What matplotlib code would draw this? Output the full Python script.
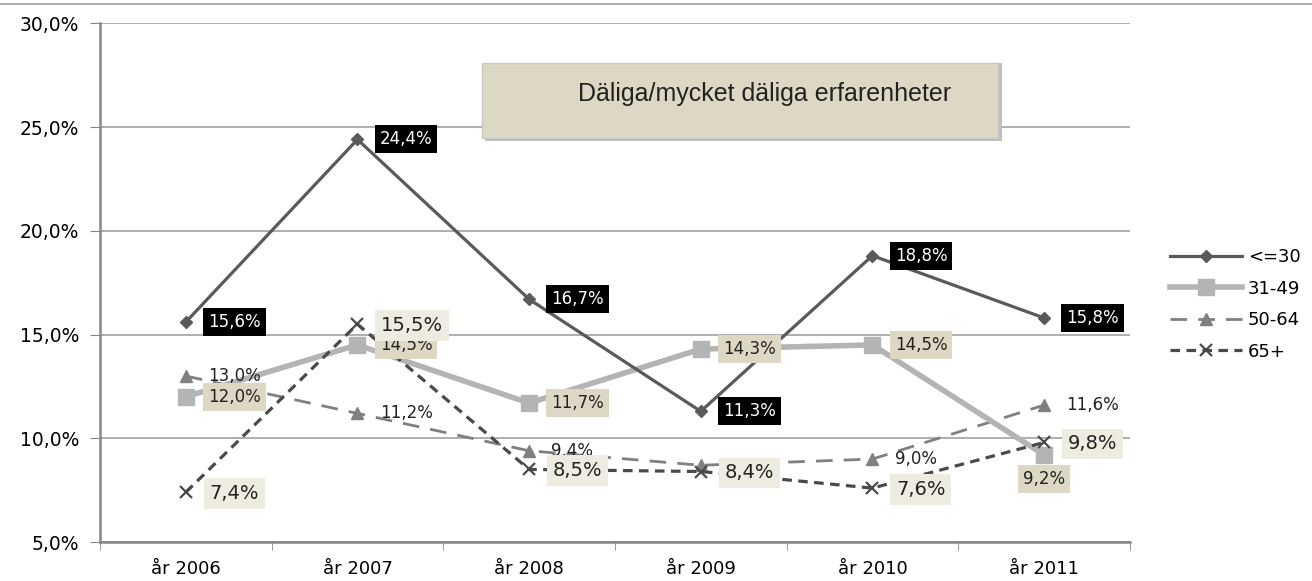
import numpy as np
import matplotlib.pyplot as plt
from matplotlib.ticker import FuncFormatter

years = ['år 2006', 'år 2007', 'år 2008', 'år 2009', 'år 2010', 'år 2011']
under30 = [15.6, 24.4, 16.7, 11.3, 18.8, 15.8]
age31_49 = [12.0, 14.5, 11.7, 14.3, 14.5, 9.2]
age50_64 = [13.0, 11.2, 9.4, 8.7, 9.0, 11.6]
age65 = [7.4, 15.5, 8.5, 8.4, 7.6, 9.8]
title = 'Däliga/mycket däliga erfarenheter'

plt.rcParams['font.family'] = ['DejaVu Sans']

fig = plt.figure(figsize=(13.12, 5.81), dpi=100)
ax = fig.add_axes([0.0762, 0.067, 0.785, 0.893])
x = np.arange(len(years))

ax.plot(x, under30, color='#5a5a5a', lw=2.3, marker='D', ms=6.5, label='<=30', zorder=5)
ax.plot(x, age31_49, color='#b4b4b4', lw=4, marker='s', ms=12, label='31-49', zorder=4)
ax.plot(x, age50_64, color='#808080', lw=2, ls=(0, (6, 4)), marker='^', ms=8, label='50-64', zorder=3)
ax.plot(x, age65, color='#4a4a4a', lw=2.3, ls=(0, (3, 2)), marker='x', ms=9, mew=1.6, label='65+', zorder=6)

def fmt(v):
    return ('%.1f%%' % v).replace('.', ',')

for i, v in enumerate(under30):
    ax.annotate(fmt(v), (i, v), xytext=(16, 0), textcoords='offset points', va='center', ha='left',
                fontsize=12, color='white', zorder=10,
                bbox=dict(boxstyle='square,pad=0.3', fc='black', ec='none'))
for i, v in enumerate(age31_49):
    off = (16, 0) if i < 5 else (0, -17)
    ha = 'left' if i < 5 else 'center'
    ax.annotate(fmt(v), (i, v), xytext=off, textcoords='offset points', va='center', ha=ha,
                fontsize=12, color='#222222', zorder=9,
                bbox=dict(boxstyle='square,pad=0.3', fc='#ddd8c3', ec='none'))
for i, v in enumerate(age50_64):
    if i == 3:
        continue
    ax.annotate(fmt(v), (i, v), xytext=(16, 0), textcoords='offset points', va='center', ha='left',
                fontsize=12, color='#222222', zorder=8)
for i, v in enumerate(age65):
    ax.annotate(fmt(v), (i, v), xytext=(17, -1), textcoords='offset points', va='center', ha='left',
                fontsize=14, color='#222222', zorder=9,
                bbox=dict(boxstyle='square,pad=0.3', fc='#eeece1', ec='none'))

ax.set_xlim(-0.5, 5.5)
ax.set_ylim(5, 30)
ax.set_yticks(np.arange(5, 31, 5))
ax.yaxis.set_major_formatter(FuncFormatter(lambda v, p: fmt(v)))
ax.set_xticks(x)
ax.set_xticklabels(years)
ax.set_xticks(np.arange(-0.5, 6, 1), minor=True)
ax.tick_params(axis='x', which='major', length=0, labelsize=13, pad=13)
ax.tick_params(axis='x', which='minor', length=6, color='#868686')
ax.tick_params(axis='y', length=7, color='#868686', labelsize=13.5, pad=8)
ax.grid(axis='y', color='#a8a8a8', lw=1.3)
ax.set_axisbelow(True)
for s in ['top', 'right']:
    ax.spines[s].set_visible(False)
for s in ['left', 'bottom']:
    ax.spines[s].set_color('#868686')
    ax.spines[s].set_linewidth(1.8)

# page edge line at the top
fig.add_artist(plt.Line2D([0, 1], [0.993, 0.993], transform=fig.transFigure, color='#a0a0a0', lw=1.2))

# title box
fig.patches.append(plt.Rectangle((0.370, 0.758), 0.394, 0.133, transform=fig.transFigure,
                                 fc='#bfbfbf', ec='none', zorder=1))
fig.patches.append(plt.Rectangle((0.367, 0.763), 0.394, 0.129, transform=fig.transFigure,
                                 fc='#ddd8c3', ec='#c8c8c8', lw=1, zorder=2))
fig.text(0.583, 0.838, title, ha='center', va='center', fontsize=18, color='#222222',
         family='Liberation Sans', zorder=3)

ax.legend(loc='center left', bbox_to_anchor=(1170 / 1312, 0.476), bbox_transform=fig.transFigure,
          frameon=False, fontsize=13, borderpad=0, borderaxespad=0,
          handlelength=4.0, labelspacing=0.75, handletextpad=0.3)

fig.savefig('out.png', dpi=100)
